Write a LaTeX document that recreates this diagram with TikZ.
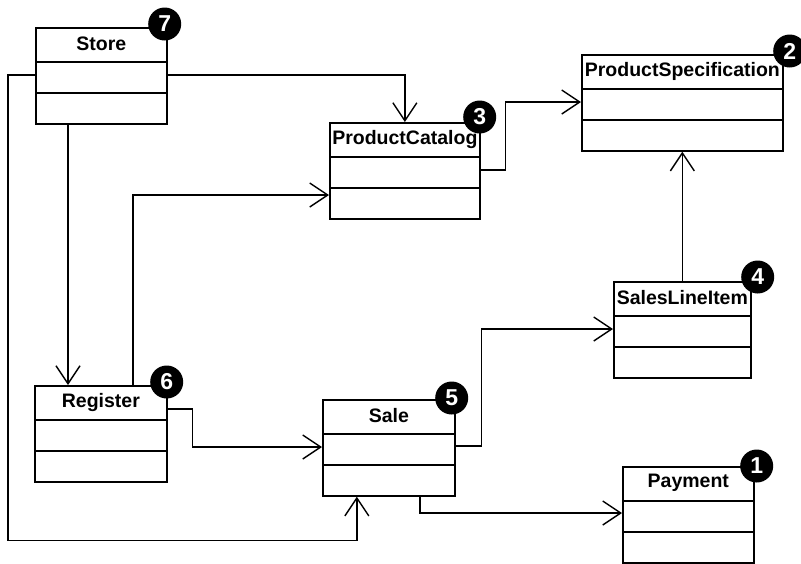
\documentclass[tikz,border=0pt]{standalone}
\usepackage{fontspec}
\setmainfont{Liberation Sans}
\usetikzlibrary{arrows.meta}

\begin{document}
\begin{tikzpicture}[x=1pt,y=-1pt,
    cls/.style={draw,line width=1.7pt,inner sep=0pt,minimum height=96pt,anchor=north west},
    ttl/.style={font=\bfseries\fontsize{19.5}{22}\selectfont,inner sep=0pt},
    badge/.style={circle,fill=black,text=white,inner sep=0pt,minimum size=33pt,font=\bfseries\fontsize{23}{26}\selectfont},
    assoc/.style={line width=1.4pt,-{Straight Barb[length=18pt,width=24pt]}}]
\useasboundingbox (0,0) rectangle (801,563);

\node[cls,minimum width=131pt] (store) at (35,27) {};
\node[cls,minimum width=150pt] (catalog) at (329,122) {};
\node[cls,minimum width=201pt] (spec) at (581,54) {};
\node[cls,minimum width=137pt] (sli) at (613,281) {};
\node[cls,minimum width=131pt] (payment) at (622,466) {};
\node[cls,minimum width=132pt] (register) at (34,385) {};
\node[cls,minimum width=132pt] (sale) at (322,399) {};

\draw[assoc] ([yshift=-48pt]store.north east) -| (catalog.north);
\draw[assoc] ([yshift=-48pt]store.north west) -- ++(-27,0) |- ([xshift=-32pt,yshift=-44pt]sale.south) -- ([xshift=-32pt]sale.south);
\draw[assoc] ([xshift=33pt]store.south west) -- ([xshift=33pt]store.south west |- register.north);
\draw[assoc] ([xshift=99pt]register.north west) |- ([yshift=-73pt]catalog.north west);
\draw[assoc] ([yshift=-24pt]register.north east) -- ++(25,0) |- ([yshift=-48pt]sale.north west);
\draw[assoc] ([yshift=-48pt]catalog.north east) -- ++(25,0) |- ([yshift=-48pt]spec.north west);
\draw[assoc] (sli.north) -- (sli.north |- spec.south);
\draw[assoc] ([yshift=-47pt]sale.north east) -- ++(26,0) |- ([yshift=-48pt]sli.north west);
\draw[assoc] ([xshift=98pt]sale.south west) |- ([yshift=-47pt]payment.north west);

\foreach \n/\t/\b/\dx/\dy in {store/Store/7/-3/3, catalog/ProductCatalog/3/-1/5, spec/ProductSpecification/2/6/3,
    sli/SalesLineItem/4/6/4, payment/Payment/1/2/0, register/Register/6/-1/3, sale/Sale/5/-4/1} {
  \foreach \d in {35,66} \draw[line width=1.7pt] ([yshift=-\d pt]\n.north west) -- ([yshift=-\d pt]\n.north east);
  \node[ttl] (\n-t) at ([yshift=-17pt]\n.north) {\t};
  \node[badge] (\n-b) at ([xshift=\dx pt,yshift=\dy pt]\n.north east) {\b};
}

\end{tikzpicture}
\end{document}
